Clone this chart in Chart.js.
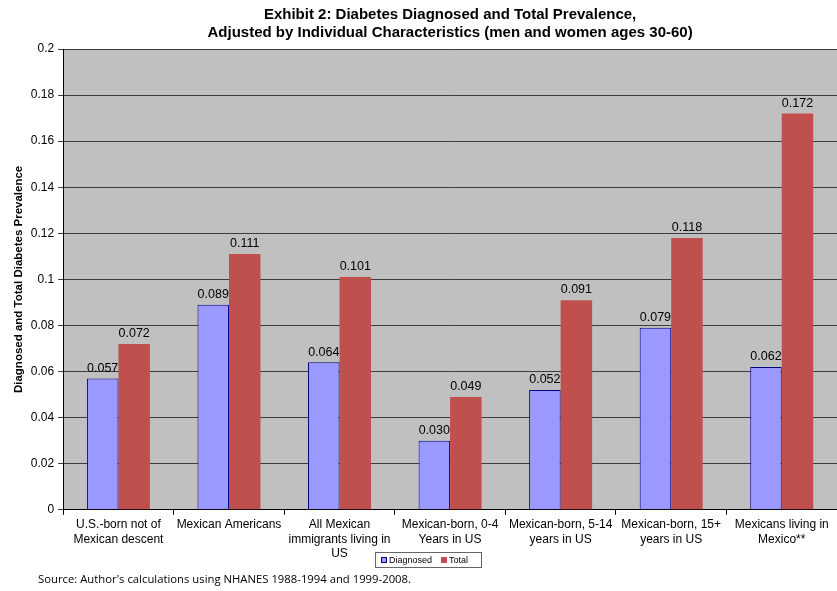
<!DOCTYPE html>
<html>
<head>
<meta charset="utf-8">
<script src="https://cdn.jsdelivr.net/npm/chart.js@4.4.1/dist/chart.umd.min.js"></script>
<style>
  html, body { margin: 0; padding: 0; background: #fff; }
  canvas { display: block; }
</style>
</head>
<body>
<canvas id="diabetesChart" width="837" height="591"></canvas>
<script>
// Chart data
const categories = [
    ['U.S.-born not of', 'Mexican descent'],
    ['Mexican Americans'],
    ['All Mexican', 'immigrants living in', 'US'],
    ['Mexican-born, 0-4', 'Years in US'],
    ['Mexican-born, 5-14', 'years in US'],
    ['Mexican-born, 15+', 'years in US'],
    ['Mexicans living in', 'Mexico**']
];
const diagnosed = [0.057, 0.089, 0.064, 0.030, 0.052, 0.079, 0.062];
const total = [0.072, 0.111, 0.101, 0.049, 0.091, 0.118, 0.172];
const yTicks = [0, 0.02, 0.04, 0.06, 0.08, 0.1, 0.12, 0.14, 0.16, 0.18, 0.2];

const titleLines = ['Exhibit 2: Diabetes Diagnosed and Total Prevalence,',
    'Adjusted by Individual Characteristics (men and women ages 30-60)'];
const yTitle = 'Diagnosed and Total Diabetes Prevalence';
const sourceNote = "Source: Author's calculations using NHANES 1988-1994 and 1999-2008.";

const FONT = "'Liberation Sans', Arial, sans-serif";

// gray plot background
const plotBackground = {
    id: 'plotBackground',
    beforeDraw(chart) {
        const { ctx, chartArea: a } = chart;
        ctx.save();
        ctx.fillStyle = '#c0c0c0';
        ctx.fillRect(a.left, a.top, a.right - a.left, a.bottom - a.top);
        ctx.restore();
    }
};

// value labels on top of bars
const valueLabels = {
    id: 'valueLabels',
    afterDatasetsDraw(chart) {
        const ctx = chart.ctx;
        ctx.save();
        ctx.font = '12.5px ' + FONT;
        ctx.fillStyle = '#000';
        ctx.textAlign = 'center';
        ctx.textBaseline = 'bottom';
        chart.data.datasets.forEach((ds, i) => {
            chart.getDatasetMeta(i).data.forEach((bar, j) => {
                ctx.fillText(ds.data[j].toFixed(3), bar.x, bar.y - 4);
            });
        });
        ctx.restore();
    }
};

// legend box + source note
const extras = {
    id: 'extras',
    afterDraw(chart) {
        const ctx = chart.ctx;
        ctx.save();
        // legend
        const lx = 375, ly = 552, lw = 106, lh = 15;
        ctx.fillStyle = '#fff';
        ctx.fillRect(lx, ly, lw, lh);
        ctx.strokeStyle = '#666';
        ctx.lineWidth = 1;
        ctx.strokeRect(lx + 0.5, ly + 0.5, lw, lh);
        ctx.font = '9px ' + FONT;
        ctx.textBaseline = 'middle';
        ctx.textAlign = 'left';
        const ds = chart.data.datasets;
        let x = lx + 6;
        ds.forEach((d) => {
            ctx.fillStyle = d.backgroundColor;
            ctx.fillRect(x, ly + 5, 6, 6);
            if (d.borderWidth) {
                ctx.strokeStyle = d.borderColor;
                ctx.strokeRect(x + 0.5, ly + 5.5, 5, 5);
            }
            ctx.fillStyle = '#000';
            ctx.fillText(d.label, x + 8, ly + lh / 2 + 1);
            x += 8 + ctx.measureText(d.label).width + 9;
        });
        // source note
        ctx.font = "11.3px 'Open Sans', sans-serif";
        ctx.fillStyle = '#000';
        ctx.fillText(sourceNote, 38, 580);
        ctx.restore();
    }
};

const ctx = document.getElementById('diabetesChart').getContext('2d');
const diabetesChart = new Chart(ctx, {
    type: 'bar',
    data: {
        labels: categories,
        datasets: [
            {
                label: 'Diagnosed',
                data: diagnosed,
                backgroundColor: '#9999ff',
                borderColor: '#000080',
                borderWidth: 1
            },
            {
                label: 'Total',
                data: total,
                backgroundColor: '#c0504d',
                borderColor: '#c0504d',
                borderWidth: 0
            }
        ]
    },
    options: {
        responsive: false,
        animation: false,
        devicePixelRatio: 1,
        layout: { padding: { left: 12, right: 0, top: 2, bottom: 27 } },
        datasets: {
            bar: { categoryPercentage: 0.57, barPercentage: 1.0 }
        },
        scales: {
            x: {
                grid: {
                    offset: true,
                    drawOnChartArea: false,
                    drawTicks: true,
                    tickLength: 5,
                    color: '#000'
                },
                border: { color: '#000' },
                ticks: {
                    color: '#000',
                    font: { family: FONT, size: 12 },
                    maxRotation: 0,
                    autoSkip: false,
                    padding: 3
                }
            },
            y: {
                min: 0,
                max: 0.2,
                afterBuildTicks(scale) {
                    scale.ticks = yTicks.map(v => ({ value: v }));
                },
                grid: { color: '#3c3c3c', tickLength: 5 },
                border: { color: '#000' },
                ticks: {
                    color: '#000',
                    font: { family: FONT, size: 12 },
                    padding: 4,
                    callback: v => String(parseFloat(v.toFixed(2)))
                },
                title: {
                    display: true,
                    text: yTitle,
                    color: '#000',
                    font: { family: FONT, size: 11.5, weight: 'bold' },
                    padding: { top: 0, bottom: 1 }
                }
            }
        },
        plugins: {
            legend: { display: false },
            tooltip: { enabled: false },
            title: {
                display: true,
                fullSize: false,
                text: titleLines,
                color: '#000',
                font: { family: FONT, size: 15, weight: 'bold', lineHeight: 1.2 },
                padding: { top: 4, bottom: 7 }
            }
        }
    },
    plugins: [plotBackground, valueLabels, extras]
});
</script>
</body>
</html>
